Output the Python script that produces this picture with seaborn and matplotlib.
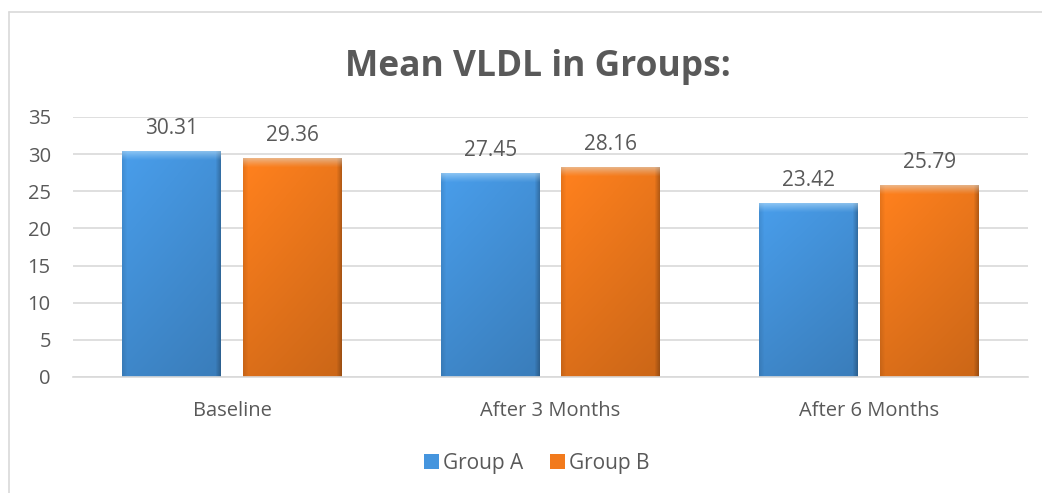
import numpy as np
import pandas as pd
import matplotlib
matplotlib.use("Agg")
import matplotlib.pyplot as plt
import matplotlib.colors as mcolors
from matplotlib.lines import Line2D
import seaborn as sns

categories = ["Baseline", "After 3 Months", "After 6 Months"]
groups = ["Group A", "Group B"]
group_a = [30.31, 27.45, 23.42]
group_b = [29.36, 28.16, 25.79]
yticks = [0, 5, 10, 15, 20, 25, 30, 35]

colors = {"Group A": "#4595de", "Group B": "#f27a1c"}
text_color = "#595959"

df = pd.DataFrame({
    "Category": categories * 2,
    "Group": [groups[0]] * 3 + [groups[1]] * 3,
    "Value": group_a + group_b,
})

sns.set_theme(style="white")
plt.rcParams["font.family"] = ["Open Sans", "DejaVu Sans"]

W, H = 1042, 493
fig = plt.figure(figsize=(W / 100, H / 100), dpi=100)
ax = fig.add_axes([73 / W, 1 - 377 / H, (1028 - 73) / W, (377 - 117) / H])

sns.barplot(data=df, x="Category", y="Value", hue="Group", order=categories,
            hue_order=groups, palette=colors, width=0.758, gap=0.18,
            ax=ax, saturation=1, legend=False, edgecolor="none")

ax.set_ylim(0, 35)
ax.set_xlim(-0.5, 2.5)
ax.set_yticks(yticks)
ax.set_yticklabels([str(t) for t in yticks], fontsize=14.5, color=text_color)
ax.tick_params(axis="x", labelsize=14.5, colors=text_color, length=0, pad=17)
ax.tick_params(axis="y", length=0, pad=16)
ax.set_xlabel("")
ax.set_ylabel("")
ax.grid(axis="y", color="#d9d9d9", linewidth=1.2)
ax.set_axisbelow(True)
for s in ["top", "right", "left"]:
    ax.spines[s].set_visible(False)
ax.spines["bottom"].set_color("#d9d9d9")
ax.spines["bottom"].set_linewidth(1.2)

# gradient shading on bars (bevel look)
px_per_unit = (377 - 117) / 35.0
bar_px_w = 99.0
bars = [p for p in ax.patches if p.get_height() > 0]
for p in bars:
    x0 = p.get_x(); w = p.get_width(); h = p.get_height()
    base = np.array(mcolors.to_rgb(p.get_facecolor()))
    top_px = h * px_per_unit
    ny, nx = int(top_px), int(bar_px_w)
    xs = np.arange(nx)
    ys = np.arange(ny)
    hfac = 1.03 - 0.08 * (xs / nx)
    hfac = hfac - 0.22 * np.clip(1 - (nx - 1 - xs) / 5.0, 0, 1)
    hfac = hfac - 0.10 * np.clip(1 - xs / 5.0, 0, 1)
    vfac = 1.03 - 0.15 * (ys / ny)
    img = base[None, None, :] * (hfac[None, :, None] * vfac[:, None, None])
    bev = np.clip(1 - ys / 9.0, 0, 1) ** 1.2 * 0.45
    img = img * (1 - bev[:, None, None]) + bev[:, None, None] * np.array([0.85, 0.95, 1.0])
    img = np.clip(img, 0, 1)
    ax.imshow(img, extent=[x0, x0 + w, 0, h], aspect="auto", origin="upper",
              clip_path=p, zorder=p.get_zorder() + 0.1, interpolation="bilinear")

ax.set_xlim(-0.5, 2.5)
ax.set_ylim(0, 35)

for c in ax.containers:
    ax.bar_label(c, labels=[f"{v:.2f}" for v in c.datavalues], padding=9,
                 fontsize=15, color=text_color)

handles = [plt.Rectangle((0, 0), 1, 1, facecolor=colors[g], edgecolor="none") for g in groups]
ax.legend(handles, groups, loc="center", bbox_to_anchor=(537 / W, 1 - 463 / H),
          bbox_transform=fig.transFigure, ncol=2, frameon=False, fontsize=15,
          handlelength=0.7, handleheight=0.7, handletextpad=0.2, columnspacing=1.3,
          labelcolor=text_color)

fig.text(538 / W, 1 - 67 / H, "Mean VLDL in Groups:", ha="center", va="center",
         fontsize=25.5, fontweight="bold", color=text_color)

# outer chart border (partially cropped)
fig.add_artist(Line2D([9 / W, 9 / W], [0, 1 - 12 / H], transform=fig.transFigure,
                      color="#d9d9d9", linewidth=1.2))
fig.add_artist(Line2D([9 / W, 1], [1 - 12 / H, 1 - 12 / H], transform=fig.transFigure,
                      color="#d9d9d9", linewidth=1.2))

fig.savefig("out.png", dpi=100, facecolor="white")
